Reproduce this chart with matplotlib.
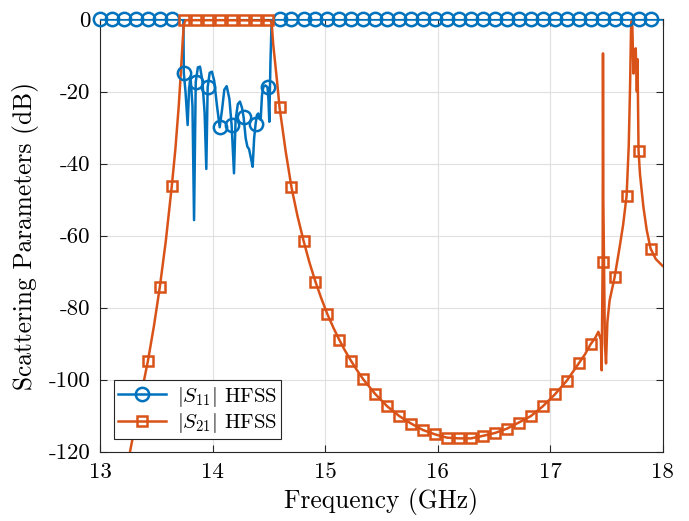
import numpy as np
import matplotlib
matplotlib.use('Agg')
import matplotlib.pyplot as plt
from matplotlib.lines import Line2D

plt.rcParams['font.family'] = 'serif'
plt.rcParams['font.serif'] = ['cmr10']
plt.rcParams['mathtext.fontset'] = 'cm'
plt.rcParams['axes.unicode_minus'] = False
plt.rcParams['axes.formatter.use_mathtext'] = True

# ---------------- data ----------------
marker_freq = [13.000, 13.106, 13.213, 13.319, 13.426, 13.532, 13.638, 13.745,
               13.851, 13.957, 14.064, 14.170, 14.277, 14.383, 14.489, 14.596,
               14.702, 14.809, 14.915, 15.021, 15.128, 15.234, 15.340, 15.447,
               15.553, 15.660, 15.766, 15.872, 15.979, 16.085, 16.191, 16.298,
               16.404, 16.511, 16.617, 16.723, 16.830, 16.936, 17.043, 17.149,
               17.255, 17.362, 17.468, 17.574, 17.681, 17.787, 17.894]

s11_markers = [0, 0, 0, 0, 0, 0, 0, -14.9, -17.3, -18.8, -29.9, -29.3, -27.2,
               -29.0, -18.8, 0, 0, 0, 0, 0, 0, 0, 0, 0, 0, 0, 0, 0, 0, 0, 0, 0,
               0, 0, 0, 0, 0, 0, 0, 0, 0, 0, 0, 0, 0, 0, 0]

s21_markers = [np.nan, np.nan, np.nan, -111.5, -94.8, -74.2, -46.3, -0.2, -0.2,
               -0.2, -0.2, -0.2, -0.2, -0.2, -0.2, -24.4, -46.6, -61.4, -72.8,
               -81.8, -89.0, -94.9, -99.9, -104.0, -107.4, -110.1, -112.2,
               -114.0, -115.2, -116.1, -116.3, -116.3, -115.6, -114.8, -113.6,
               -111.9, -110.1, -107.4, -104.1, -100.3, -95.5, -90.1, -67.3,
               -71.6, -48.9, -36.4, -63.6]

s11_line_f = [13.000, 13.741, 13.745, 13.760, 13.779, 13.792, 13.806, 13.822,
              13.836, 13.851, 13.870, 13.889, 13.910, 13.930, 13.945, 13.957,
              13.975, 13.995, 14.015, 14.040, 14.064, 14.085, 14.105, 14.126,
              14.150, 14.170, 14.191, 14.205, 14.225, 14.244, 14.262, 14.277,
              14.295, 14.310, 14.325, 14.345, 14.357, 14.370, 14.383, 14.395,
              14.407, 14.420, 14.428, 14.440, 14.452, 14.470, 14.489, 14.497,
              14.505, 14.515, 14.526, 18.000]
s11_line_db = [0, 0, -14.9, -20.0, -29.3, -19.0, -16.5, -24.0,
               -55.7, -17.3, -13.3, -13.1, -17.0, -26.0, -41.5, -18.8,
               -14.8, -14.5, -17.0, -24.0, -29.9, -25.0, -19.5, -18.5,
               -22.0, -29.3, -42.7, -28.0, -23.5, -22.8, -24.5, -27.2,
               -33.0, -35.3, -36.0, -39.0, -40.9, -33.0, -29.0, -26.5,
               -26.1, -27.5, -27.9, -21.0, -18.7, -18.3, -18.8, -22.0,
               -28.4, -12.0, 0, 0]

s21_line_f = [13.200, 13.267, 13.319, 13.370, 13.426, 13.480, 13.532, 13.585,
              13.638, 13.670, 13.700, 13.720, 13.735, 13.745, 13.760, 14.100,
              14.515, 14.526, 14.540, 14.560, 14.575, 14.596, 14.650, 14.702,
              14.755, 14.809, 14.862, 14.915, 14.968, 15.021, 15.075, 15.128,
              15.181, 15.234, 15.287, 15.340, 15.447, 15.553, 15.660, 15.766,
              15.872, 15.979, 16.085, 16.191, 16.298, 16.404, 16.511, 16.617,
              16.723, 16.830, 16.936, 17.043, 17.149, 17.200, 17.255, 17.310,
              17.362, 17.400, 17.430, 17.452, 17.459, 17.468, 17.471, 17.474,
              17.488, 17.498, 17.510, 17.530, 17.574, 17.620, 17.650, 17.681,
              17.700, 17.712, 17.720, 17.726, 17.732, 17.742, 17.748, 17.762,
              17.772, 17.778, 17.787, 17.800, 17.830, 17.860, 17.894, 17.940,
              18.000]
s21_line_db = [-131.0, -120.0, -111.5, -103.5, -94.8, -85.0, -74.2, -61.5,
               -46.3, -36.0, -24.0, -14.0, -6.0, -1.5, -0.2, -0.2,
               -0.3, -1.0, -7.0, -13.0, -17.5, -24.4, -36.5, -46.6,
               -54.5, -61.4, -67.5, -72.8, -77.5, -81.8, -85.6, -89.0,
               -92.1, -94.9, -97.5, -99.9, -104.0, -107.4, -110.1, -112.2,
               -114.0, -115.2, -116.1, -116.3, -116.3, -115.6, -114.8, -113.6,
               -111.9, -110.1, -107.4, -104.1, -100.3, -98.0, -95.5, -93.0,
               -90.1, -88.5, -86.7, -89.0, -97.4, -67.3, -9.4, -50.0,
               -90.0, -95.5, -84.0, -78.0, -71.6, -63.0, -57.0, -48.9,
               -35.0, -18.0, -3.0, -0.5, -2.0, -15.0, -10.0, -8.0,
               -20.0, -11.0, -36.4, -43.0, -52.0, -58.5, -63.6, -66.5,
               -68.4]

xticks = [13, 14, 15, 16, 17, 18]
yticks = [-120, -100, -80, -60, -40, -20, 0]
ytick_labels = ['-120', '-100', '-80', '-60', '-40', '-20', '0']
legend_labels = [r'$|S_{11}|$ HFSS', r'$|S_{21}|$ HFSS']

c1 = '#0072BD'
c2 = '#D95319'
dark = '#262626'
LW = 1.8
MEW = 1.8

# ---------------- figure ----------------
fig = plt.figure(figsize=(6.89, 5.21), dpi=100)
ax = fig.add_axes([100/689, 1-451.7/521, 562.5/689, 432.2/521])

ax.plot(s11_line_f, s11_line_db, color=c1, lw=LW, zorder=3)
ax.plot(s21_line_f, s21_line_db, color=c2, lw=LW, zorder=3)
ax.plot(marker_freq, s11_markers, ls='none', marker='o', ms=9.6, mew=MEW,
        mec=c1, mfc='none', clip_on=False, zorder=4)
ax.plot(marker_freq, s21_markers, ls='none', marker='s', ms=7.6, mew=MEW,
        mec=c2, mfc='none', clip_on=False, zorder=5)

ax.set_xlim(13, 18)
ax.set_ylim(-120, 0)
ax.set_xticks(xticks)
ax.set_xticklabels([str(t) for t in xticks])
ax.set_yticks(yticks)
ax.set_yticklabels(ytick_labels)

ax.grid(True, color='#e0e0e0', lw=0.8)
ax.set_axisbelow(True)
for s in ax.spines.values():
    s.set_color(dark)
    s.set_linewidth(0.8)
ax.tick_params(direction='in', top=True, right=True, length=5, width=0.8,
               color=dark, labelsize=16.5, labelcolor='black')
ax.tick_params(axis='x', pad=8)
ax.tick_params(axis='y', pad=7)

ax.set_xlabel('Frequency (GHz)', fontsize=18.3, labelpad=4)
ax.set_ylabel('Scattering Parameters (dB)', fontsize=18.3, labelpad=7)

h1 = Line2D([], [], color=c1, lw=LW, marker='o', ms=9.6, mew=MEW, mfc='none')
h2 = Line2D([], [], color=c2, lw=LW, marker='s', ms=7.6, mew=MEW, mfc='none')
leg = ax.legend([h1, h2], legend_labels,
                loc='lower left', bbox_to_anchor=(0.0249, 0.0287),
                borderaxespad=0, fontsize=15, fancybox=False, framealpha=1,
                edgecolor=dark, handlelength=2.3, handletextpad=0.5,
                borderpad=0.2, labelspacing=0.12)
leg.get_frame().set_linewidth(0.8)
leg.set_zorder(10)

fig.savefig('out.png', dpi=100)
